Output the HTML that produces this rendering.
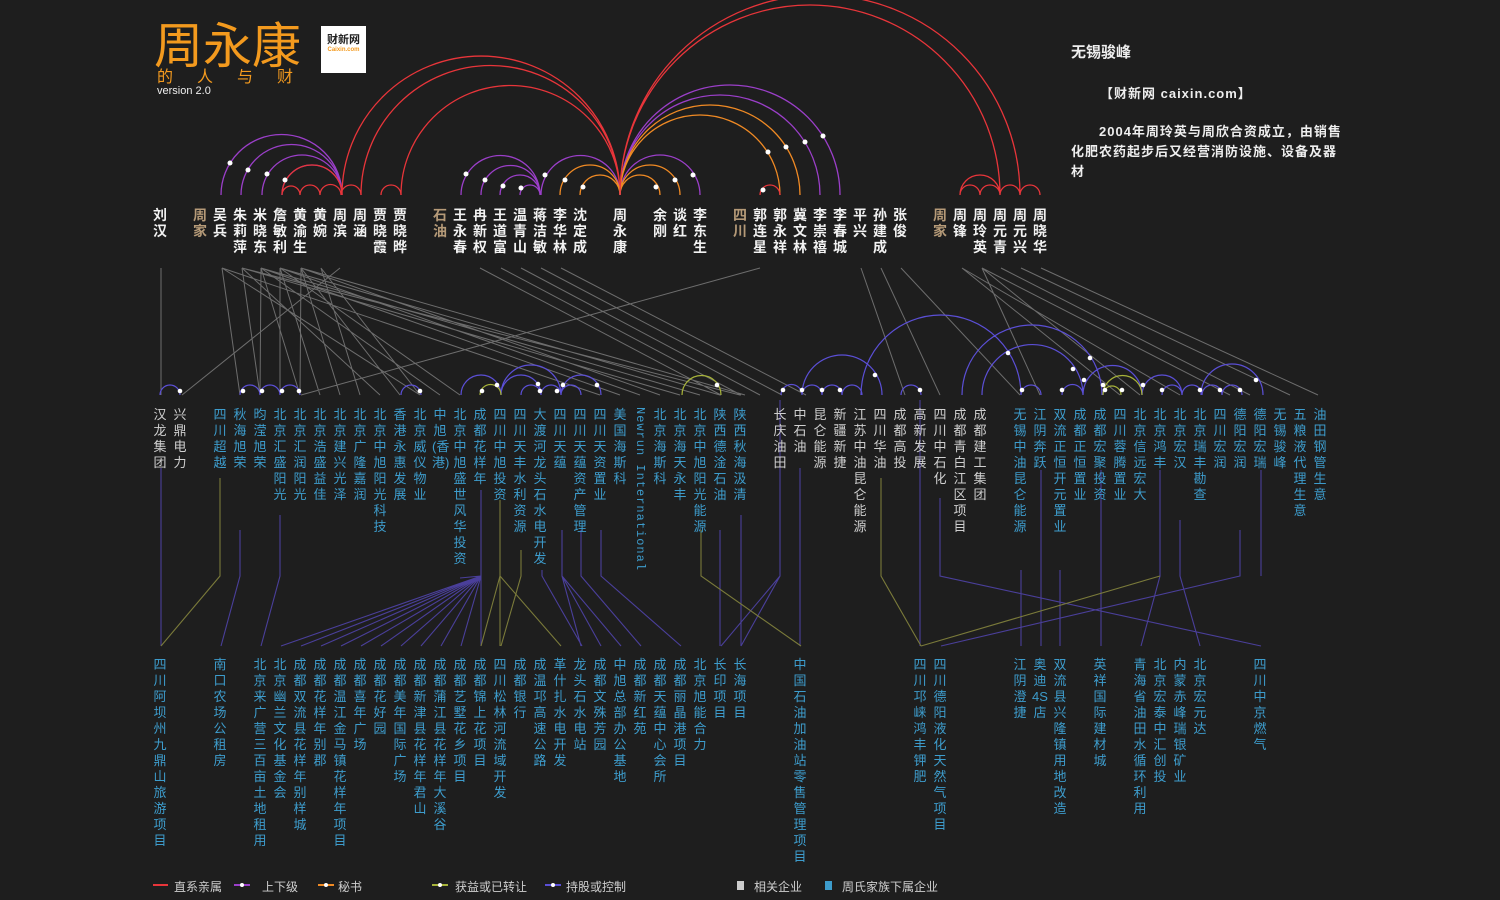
<!DOCTYPE html>
<html><head><meta charset="utf-8">
<style>
body{margin:0;background:#1e1e1e;}
#w{position:relative;width:1500px;height:900px;background:#1e1e1e;overflow:hidden;font-family:"Liberation Sans","Noto Sans CJK SC",sans-serif;}
svg{position:absolute;left:0;top:0}
.c{position:absolute;width:16px;margin-left:-8px;text-align:center;word-break:break-all;font-size:13px;line-height:16px;}
.n{color:#f2f2f2;font-weight:bold;font-size:14px;top:207px;}
.t{color:#b59a78;}
.m{top:407px;color:#3d9ccc;}
.g{color:#cfcfcf;}
.b{top:657px;color:#3d9ccc;}
.lg{position:absolute;top:878px;font-size:12px;color:#cfcfcf;}
</style></head><body><div id="w">
<div style="position:absolute;left:154px;top:16px;font-size:49px;line-height:54px;color:#f39a1e;font-family:'Noto Sans CJK SC',sans-serif;">周永康</div>
<div style="position:absolute;left:157px;top:66px;font-size:16px;line-height:18px;color:#f39a1e;letter-spacing:24px;font-family:'Noto Sans CJK SC',sans-serif;">的人与财</div>
<div style="position:absolute;left:157px;top:85px;font-size:11px;line-height:12px;color:#eee;">version 2.0</div>
<div style="position:absolute;left:321px;top:26px;width:45px;height:47px;background:#fff;text-align:center;">
<div style="font-size:11px;font-weight:bold;color:#222;margin-top:5px;">财新网</div><div style="font-size:6px;color:#f39a1e;font-weight:bold;">Caixin.com</div></div>
<div style="position:absolute;left:1071px;top:41px;font-size:15px;font-weight:bold;color:#eee;">无锡骏峰</div>
<div style="position:absolute;left:1100px;top:83px;font-size:13px;font-weight:bold;color:#eee;letter-spacing:1px;">【财新网 caixin.com】</div>
<div style="position:absolute;left:1071px;top:122px;white-space:nowrap;font-size:13px;font-weight:bold;color:#eee;line-height:20px;letter-spacing:1px;"><span style="padding-left:28px"></span>2004年周玲英与周欣合资成立，由销售<br>化肥农药起步后又经营消防设施、设备及器<br>材</div>

<svg width="1500" height="900" fill="none">
<g stroke="#888" stroke-width="1" opacity="0.75">
<path d="M161 268L161 395M222 268L240 395M222 268L420 395M222 268L600 395M242 268L260 395M242 268L380 395M242 268L680 395M242 268L740 395M261 268L260 395M261 268L300 395M261 268L440 395M261 268L620 395M261 268L700 395M280 268L280 395M280 268L320 395M280 268L460 395M280 268L640 395M280 268L720 395M301 268L300 395M301 268L340 395M301 268L400 395M301 268L660 395M301 268L745 395M321 268L360 395M321 268L420 395M340 268L182 395M760 268L301 395M480 268L721 395M501 268L741 395M521 268L760 395M541 268L782 395M561 268L806 395M861 268L905 395M881 268L940 395M901 268L1020 395M962 268L1120 395M962 268L1180 395M982 268L1040 395M982 268L1230 395M1001 268L1250 395M1021 268L1290 395M1041 268L1318 395M982 268L1140 395"/>
</g>
<g stroke-width="1.3">
<path stroke="#9b3fc9" d="M221 195A60.5 60.5 0 0 1 342 195M241 195A50.5 50.5 0 0 1 342 195M262 195A40 40 0 0 1 342 195M282 195A30 30 0 0 1 342 195"/>
<path stroke="#e8353a" d="M282 195A30 30 0 0 1 342 195M282 195A9 9 0 0 1 300 195M300 195A10 10 0 0 1 320 195M320 195A10.5 10.5 0 0 1 341 195M341 195A10 10 0 0 1 361 195M381 195A10 10 0 0 1 401 195"/>
<path stroke="#e8353a" d="M342 195A139 139 0 0 1 620 195M361 195A129.5 129.5 0 0 1 620 195M401 195A109.5 109.5 0 0 1 620 195"/>
<path stroke="#9b3fc9" d="M461 195A39.5 39.5 0 0 1 540 195M481 195A29.5 29.5 0 0 1 540 195M500 195A20 20 0 0 1 540 195M520 195A10 10 0 0 1 540 195M541 195A39.5 39.5 0 0 1 620 195M620 195A40 40 0 0 1 700 195"/>
<path stroke="#f08a24" d="M560 195A30 30 0 0 1 620 195M580 195A20 20 0 0 1 620 195M620 195A30 30 0 0 1 680 195M620 195A20 20 0 0 1 660 195"/>
<path stroke="#9b3fc9" d="M620 195A110 110 0 0 1 840 195M620 195A100 100 0 0 1 820 195"/>
<path stroke="#f08a24" d="M620 195A90 90 0 0 1 800 195M620 195A80 80 0 0 1 780 195"/>
<path stroke="#e8353a" d="M760 195A10 10 0 0 1 780 195M620 195A200 200 0 0 1 1020 195M620 195A190 190 0 0 1 1000 195M960 195A10 10 0 0 1 980 195M980 195A10 10 0 0 1 1000 195M1000 195A10 10 0 0 1 1020 195M1020 195A10 10 0 0 1 1040 195M960 195A20 20 0 0 1 1000 195"/>
</g>
<g fill="#fff">
<circle cx="230" cy="163" r="2.5"/><circle cx="248" cy="170" r="2.5"/><circle cx="267" cy="174" r="2.5"/><circle cx="285" cy="180" r="2.5"/>
<circle cx="466" cy="174" r="2.5"/><circle cx="485" cy="180" r="2.5"/><circle cx="503" cy="186" r="2.5"/><circle cx="521" cy="188" r="2.5"/><circle cx="545" cy="175" r="2.5"/><circle cx="565" cy="180" r="2.5"/><circle cx="583" cy="187" r="2.5"/><circle cx="656" cy="187" r="2.5"/><circle cx="675" cy="180" r="2.5"/><circle cx="693" cy="175" r="2.5"/>
<circle cx="763" cy="190" r="2.5"/><circle cx="768" cy="152" r="2.5"/><circle cx="786" cy="147" r="2.5"/><circle cx="805" cy="142" r="2.5"/><circle cx="823" cy="136" r="2.5"/>
</g>
<g stroke="#5b4fd6" stroke-width="1.2">
<path d="M160 395A10 10 0 0 1 180 395M240 395A10 10 0 0 1 260 395M260 395A10 10 0 0 1 280 395M280 395A10 10 0 0 1 300 395M401 395A10 10 0 0 1 421 395"/>
<path d="M461 395A20 20 0 0 1 501 395M501 395A30 30 0 0 1 561 395M501 395A20 20 0 0 1 541 395M521 395A10 10 0 0 1 541 395M541 395A10 10 0 0 1 561 395M561 395A20 20 0 0 1 601 395M561 395A10 10 0 0 1 581 395"/>
<path d="M781 395A10.5 10.5 0 0 1 802 395M802 395A10 10 0 0 1 822 395M822 395A10 10 0 0 1 842 395M842 395A10 10 0 0 1 862 395M802 395A40 40 0 0 1 882 395M861 395A80 80 0 0 1 1021 395M901 395A10 10 0 0 1 921 395M962 395A70 70 0 0 1 1102 395M982 395A50.5 50.5 0 0 1 1083 395M1021 395A10 10 0 0 1 1041 395M1062 395A10.5 10.5 0 0 1 1083 395M1083 395A29.5 29.5 0 0 1 1142 395M1142 395A20 20 0 0 1 1182 395M1162 395A10 10 0 0 1 1182 395M1182 395A10 10 0 0 1 1202 395M1202 395A10 10 0 0 1 1222 395M1222 395A10 10 0 0 1 1242 395M1201 395A31 31 0 0 1 1263 395"/>
</g>
<g stroke="#a7b33a" stroke-width="1.2"><path d="M480 395A10.5 10.5 0 0 1 501 395M682 395A19.5 19.5 0 0 1 721 395M1103 395A19.5 19.5 0 0 1 1142 395M1103 395A9 9 0 0 1 1121 395"/></g>
<g fill="#fff">
<circle cx="180" cy="391" r="2.3"/><circle cx="243" cy="391" r="2.3"/><circle cx="262" cy="391" r="2.3"/><circle cx="282" cy="391" r="2.3"/><circle cx="299" cy="391" r="2.3"/><circle cx="420" cy="391" r="2.3"/>
<circle cx="482" cy="391" r="2.3"/><circle cx="497" cy="385" r="2.3"/><circle cx="538" cy="384" r="2.3"/><circle cx="540" cy="391" r="2.3"/><circle cx="557" cy="391" r="2.3"/><circle cx="563" cy="385" r="2.3"/><circle cx="597" cy="385" r="2.3"/><circle cx="717" cy="385" r="2.3"/>
<circle cx="783" cy="390" r="2.3"/><circle cx="802" cy="390" r="2.3"/><circle cx="822" cy="390" r="2.3"/><circle cx="840" cy="390" r="2.3"/><circle cx="875" cy="375" r="2.3"/><circle cx="920" cy="390" r="2.3"/><circle cx="1008" cy="353" r="2.3"/><circle cx="1022" cy="390" r="2.3"/><circle cx="1062" cy="390" r="2.3"/><circle cx="1073" cy="369" r="2.3"/><circle cx="1090" cy="358" r="2.3"/><circle cx="1084" cy="380" r="2.3"/><circle cx="1103" cy="385" r="2.3"/><circle cx="1105" cy="390" r="2.3"/><circle cx="1122" cy="390" r="2.3"/><circle cx="1143" cy="385" r="2.3"/><circle cx="1162" cy="390" r="2.3"/><circle cx="1200" cy="390" r="2.3"/><circle cx="1220" cy="390" r="2.3"/><circle cx="1240" cy="390" r="2.3"/><circle cx="1256" cy="380" r="2.3"/>
</g>
<g stroke="#4a3f9a" stroke-width="1.1">
<path d="M161 468L161 646M240 530L240 576L221 646M280 515L280 576L261 646M481 490L481 576"/>
<path d="M481 576L281 646M481 576L301 646M481 576L321 646M481 576L341 646M481 576L361 646M481 576L381 646M481 576L401 646M481 576L421 646M481 576L441 646M481 576L461 646M481 576L481 646M460 578L481 576"/>
<path d="M542 570L542 576L582 646M562 530L562 576L581 646M562 576L601 646M562 576L621 646M581 530L581 576L641 646M601 530L601 576L681 646M720 530L720 646M741 515L741 646M780 400L780 576L721 646M780 576L741 646M800 468L800 646M940 498L940 576L1261 646M920 400L920 646M1021 570L1021 646M1041 470L1041 646M1060 570L1060 646M1101 470L1101 646M1160 470L1160 576L1141 646M1180 520L1180 576L1200 646M1240 530L1240 576L941 646M1261 470L1261 576"/>
</g>
<g stroke="#7a7a3a" stroke-width="1.1">
<path d="M220 478L220 576L161 646M500 500L500 646M500 576L481 646M500 576L561 646M521 550L521 576L501 646M701 530L701 576L801 646M881 478L881 576L921 646M921 646L1160 576"/>
</g>
<g stroke-width="2"><path stroke="#e8353a" d="M153 885L168 885"/><path stroke="#9b3fc9" d="M234 885L250 885"/><path stroke="#f08a24" d="M318 885L334 885"/><path stroke="#a7b33a" d="M432 885L448 885"/><path stroke="#5b4fd6" d="M545 885L561 885"/></g>
<g fill="#fff"><circle cx="242" cy="885" r="2"/><circle cx="326" cy="885" r="2"/><circle cx="440" cy="885" r="2"/><circle cx="553" cy="885" r="2"/></g>
<rect x="737" y="881" width="7" height="9" fill="#ccc"/><rect x="825" y="881" width="7" height="9" fill="#3d9ccc"/>
</svg>
<div class="lg" style="left:174px">直系亲属</div><div class="lg" style="left:262px">上下级</div><div class="lg" style="left:338px">秘书</div><div class="lg" style="left:455px">获益或已转让</div><div class="lg" style="left:566px">持股或控制</div><div class="lg" style="left:754px">相关企业</div><div class="lg" style="left:842px">周氏家族下属企业</div>

<div class="c n" style="left:160px">刘汉</div><div class="c n t" style="left:200px">周家</div><div class="c n" style="left:220px">吴兵</div><div class="c n" style="left:240px">朱莉萍</div><div class="c n" style="left:260px">米晓东</div><div class="c n" style="left:280px">詹敏利</div><div class="c n" style="left:300px">黄渝生</div><div class="c n" style="left:320px">黄婉</div><div class="c n" style="left:340px">周滨</div><div class="c n" style="left:360px">周涵</div><div class="c n" style="left:380px">贾晓霞</div><div class="c n" style="left:400px">贾晓晔</div>
<div class="c n t" style="left:440px">石油</div><div class="c n" style="left:460px">王永春</div><div class="c n" style="left:480px">冉新权</div><div class="c n" style="left:500px">王道富</div><div class="c n" style="left:520px">温青山</div><div class="c n" style="left:540px">蒋洁敏</div><div class="c n" style="left:560px">李华林</div><div class="c n" style="left:580px">沈定成</div>
<div class="c n" style="left:620px">周永康</div><div class="c n" style="left:660px">余刚</div><div class="c n" style="left:680px">谈红</div><div class="c n" style="left:700px">李东生</div>
<div class="c n t" style="left:740px">四川</div><div class="c n" style="left:760px">郭连星</div><div class="c n" style="left:780px">郭永祥</div><div class="c n" style="left:800px">冀文林</div><div class="c n" style="left:820px">李崇禧</div><div class="c n" style="left:840px">李春城</div><div class="c n" style="left:860px">平兴</div><div class="c n" style="left:880px">孙建成</div><div class="c n" style="left:900px">张俊</div>
<div class="c n t" style="left:940px">周家</div><div class="c n" style="left:960px">周锋</div><div class="c n" style="left:980px">周玲英</div><div class="c n" style="left:1000px">周元青</div><div class="c n" style="left:1020px">周元兴</div><div class="c n" style="left:1040px">周晓华</div>

<div class="c m g" style="left:160px">汉龙集团</div><div class="c m g" style="left:180px">兴鼎电力</div>
<div class="c m" style="left:220px">四川超越</div><div class="c m" style="left:240px">秋海旭荣</div><div class="c m" style="left:260px">昀滢旭荣</div><div class="c m" style="left:280px">北京汇盛阳光</div><div class="c m" style="left:300px">北京汇润阳光</div><div class="c m" style="left:320px">北京浩盛益佳</div><div class="c m" style="left:340px">北京建兴光泽</div><div class="c m" style="left:360px">北京广隆嘉润</div><div class="c m" style="left:380px">北京中旭阳光科技</div><div class="c m" style="left:400px">香港永惠发展</div><div class="c m" style="left:420px">北京威仪物业</div><div class="c m" style="left:440px">中旭(香港)</div><div class="c m" style="left:460px">北京中旭盛世风华投资</div><div class="c m" style="left:480px">成都花样年</div><div class="c m" style="left:500px">四川中旭投资</div><div class="c m" style="left:520px">四川天丰水利资源</div><div class="c m" style="left:540px">大渡河龙头石水电开发</div><div class="c m" style="left:560px">四川天蕴</div><div class="c m" style="left:580px">四川天蕴资产管理</div><div class="c m" style="left:600px">四川天资置业</div><div class="c m" style="left:620px">美国海斯科</div>
<div class="m" style="position:absolute;left:633px;width:14px;writing-mode:vertical-rl;font-size:12px;line-height:14px;letter-spacing:1px;font-family:'Liberation Mono',monospace;">Newrun International</div>
<div class="c m" style="left:660px">北京海斯科</div><div class="c m" style="left:680px">北京海天永丰</div><div class="c m" style="left:700px">北京中旭阳光能源</div><div class="c m" style="left:720px">陕西德淦石油</div><div class="c m" style="left:740px">陕西秋海汲清</div>
<div class="c m g" style="left:780px">长庆油田</div><div class="c m g" style="left:800px">中石油</div><div class="c m g" style="left:820px">昆仑能源</div><div class="c m g" style="left:840px">新疆新捷</div><div class="c m g" style="left:860px">江苏中油昆仑能源</div><div class="c m g" style="left:880px">四川华油</div><div class="c m g" style="left:900px">成都高投</div><div class="c m g" style="left:920px">高新发展</div><div class="c m g" style="left:940px">四川中石化</div><div class="c m g" style="left:960px">成都青白江区项目</div><div class="c m g" style="left:980px">成都建工集团</div>
<div class="c m" style="left:1020px">无锡中油昆仑能源</div><div class="c m" style="left:1040px">江阴奔跃</div><div class="c m" style="left:1060px">双流正恒开元置业</div><div class="c m" style="left:1080px">成都正恒置业</div><div class="c m" style="left:1100px">成都宏聚投资</div><div class="c m" style="left:1120px">四川蓉腾置业</div><div class="c m" style="left:1140px">北京信远宏大</div><div class="c m" style="left:1160px">北京鸿丰</div><div class="c m" style="left:1180px">北京宏汉</div><div class="c m" style="left:1200px">北京瑞丰勘查</div><div class="c m" style="left:1220px">四川宏润</div><div class="c m" style="left:1240px">德阳宏润</div><div class="c m" style="left:1260px">德阳宏瑞</div><div class="c m" style="left:1280px">无锡骏峰</div><div class="c m" style="left:1300px">五粮液代理生意</div><div class="c m" style="left:1320px">油田钢管生意</div>

<div class="c b" style="left:160px">四川阿坝州九鼎山旅游项目</div><div class="c b" style="left:220px">南口农场公租房</div><div class="c b" style="left:260px">北京来广营三百亩土地租用</div><div class="c b" style="left:280px">北京幽兰文化基金会</div><div class="c b" style="left:300px">成都双流县花样年别样城</div><div class="c b" style="left:320px">成都花样年别郡</div><div class="c b" style="left:340px">成都温江金马镇花样年项目</div><div class="c b" style="left:360px">成都喜年广场</div><div class="c b" style="left:380px">成都花好园</div><div class="c b" style="left:400px">成都美年国际广场</div><div class="c b" style="left:420px">成都新津县花样年君山</div><div class="c b" style="left:440px">成都蒲江县花样年大溪谷</div><div class="c b" style="left:460px">成都艺墅花乡项目</div><div class="c b" style="left:480px">成都锦上花项目</div><div class="c b" style="left:500px">四川松林河流域开发</div><div class="c b" style="left:520px">成都银行</div><div class="c b" style="left:540px">成温邛高速公路</div><div class="c b" style="left:560px">革什扎水电开发</div><div class="c b" style="left:580px">龙头石水电站</div><div class="c b" style="left:600px">成都文殊芳园</div><div class="c b" style="left:620px">中旭总部办公基地</div><div class="c b" style="left:640px">成都新红苑</div><div class="c b" style="left:660px">成都天蕴中心会所</div><div class="c b" style="left:680px">成都丽晶港项目</div><div class="c b" style="left:700px">北京旭能合力</div><div class="c b" style="left:720px">长印项目</div><div class="c b" style="left:740px">长海项目</div>
<div class="c b" style="left:800px">中国石油加油站零售管理项目</div><div class="c b" style="left:920px">四川邛崃鸿丰钾肥</div><div class="c b" style="left:940px">四川德阳液化天然气项目</div><div class="c b" style="left:1020px">江阴澄捷</div><div class="c b" style="left:1040px">奥迪4S店</div><div class="c b" style="left:1060px">双流县兴隆镇用地改造</div><div class="c b" style="left:1100px">英祥国际建材城</div><div class="c b" style="left:1140px">青海省油田水循环利用</div><div class="c b" style="left:1160px">北京宏泰中汇创投</div><div class="c b" style="left:1180px">内蒙赤峰瑞银矿业</div><div class="c b" style="left:1200px">北京宏元达</div><div class="c b" style="left:1260px">四川中京燃气</div>
</div></body></html>
